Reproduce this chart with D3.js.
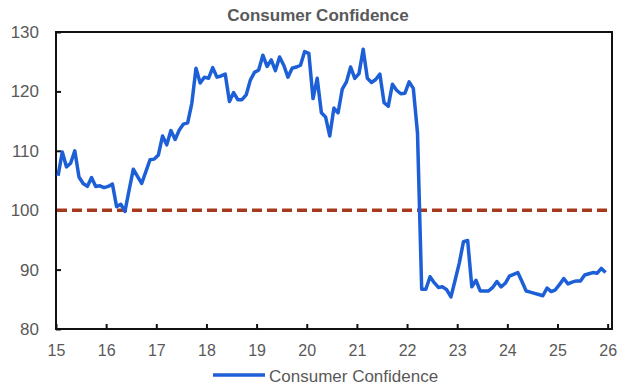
<!DOCTYPE html>
<html><head><meta charset="utf-8">
<script src="https://cdn.jsdelivr.net/npm/d3@7"></script>
<style>
body{margin:0;background:#fff;}
svg text{font-family:"Liberation Sans",Arial,sans-serif;fill:#595959;}
</style></head>
<body><svg id="c" width="633" height="390"></svg>
<script>
const title = "Consumer Confidence";
const seriesName = "Consumer Confidence";
const startYear = 15;
const xTickLabels = [15,16,17,18,19,20,21,22,23,24,25,26];
const yTickLabels = [80,90,100,110,120,130];
const referenceLevel = 100;
const values = [
105.8,109.8,107.3,107.9,110,105.6,104.5,104,105.5,104,104.1,103.8,
104,104.4,100.6,101,99.8,103.4,106.9,105.7,104.5,106.5,108.5,108.6,
109.3,112.5,111,113.4,111.9,113.5,114.5,114.7,118,123.9,121.4,122.4,
122.2,124,122.4,122.6,122.9,118.3,119.8,118.6,118.6,119.4,121.9,123.2,
123.6,126.1,124.2,125.3,123.5,125.8,124.4,122.4,123.9,124.1,124.4,126.7,
126.4,118.8,122.2,116.4,115.7,112.5,117.2,116.4,120.4,121.6,124.1,122.2,
123,127.1,122.2,121.5,122,122.9,118.1,117.5,121.2,120.2,119.6,119.7,
121.6,120.5,113,86.7,86.7,88.8,87.8,87,87.1,86.6,85.4,88.2,91.1,94.7,
94.9,87.1,88.2,86.4,86.4,86.4,87,88,87.1,87.7,88.9,89.2,
89.5,88,86.4,86.2,86,85.8,85.6,86.9,86.3,86.6,87.5,88.5,
87.6,87.9,88.1,88.1,89.1,89.3,89.5,89.4,90.2,89.5
];

const svg = d3.select("#c");
const L = 56, R = 612, T = 32, B = 329;
const x = d3.scaleLinear().domain([15, 15 + (R - L) / 50.15]).range([L, R]);
const y = d3.scaleLinear().domain([80, 130]).range([B, T]);

const data = values.map((v, i) => ({t: startYear + (i + 0.5) / 12, v}));

// title
svg.append("text").attr("x", 318).attr("y", 20.5).attr("text-anchor", "middle")
  .style("font-weight", "bold").style("font-size", "17px").text(title);

// frame
svg.append("rect").attr("x", L).attr("y", T).attr("width", R - L).attr("height", B - T)
  .attr("fill", "none").attr("stroke", "#111").attr("stroke-width", 2);

// x axis
const xAxis = d3.axisBottom(x).tickValues(xTickLabels).tickSizeInner(-5).tickSizeOuter(0).tickPadding(16)
  .tickFormat(d => d);
const gx = svg.append("g").attr("transform", `translate(0,${B})`).call(xAxis);
gx.select(".domain").remove();
gx.selectAll("line").attr("stroke", "#111").attr("stroke-width", 2);
gx.selectAll("text").style("font-size", "16px").attr("fill", "#595959").style("font-family", "Liberation Sans, Arial, sans-serif");

// y axis
const yAxis = d3.axisLeft(y).tickValues(yTickLabels).tickSizeInner(-5).tickSizeOuter(0).tickPadding(17);
const gy = svg.append("g").attr("transform", `translate(${L},0)`).call(yAxis);
gy.select(".domain").remove();
gy.selectAll("line").attr("stroke", "#111").attr("stroke-width", 2);
gy.selectAll("text").style("font-size", "17px").attr("fill", "#595959").style("font-family", "Liberation Sans, Arial, sans-serif");

// reference dashed line
svg.append("line").attr("x1", L + 1).attr("x2", R - 1).attr("y1", y(referenceLevel)).attr("y2", y(referenceLevel))
  .attr("stroke", "#a5381d").attr("stroke-width", 3.5).attr("stroke-dasharray", "10,5");

// series line
const line = d3.line().x(d => x(d.t)).y(d => y(d.v));
svg.append("path").datum(data).attr("d", line).attr("fill", "none")
  .attr("stroke", "#1c5fd6").attr("stroke-width", 3.5).attr("stroke-linejoin", "round");

// legend
svg.append("line").attr("x1", 213).attr("x2", 265).attr("y1", 375).attr("y2", 375)
  .attr("stroke", "#1c5fd6").attr("stroke-width", 3.5);
svg.append("text").attr("x", 269).attr("y", 381.5).style("font-size", "17px").text(seriesName);
</script></body></html>
